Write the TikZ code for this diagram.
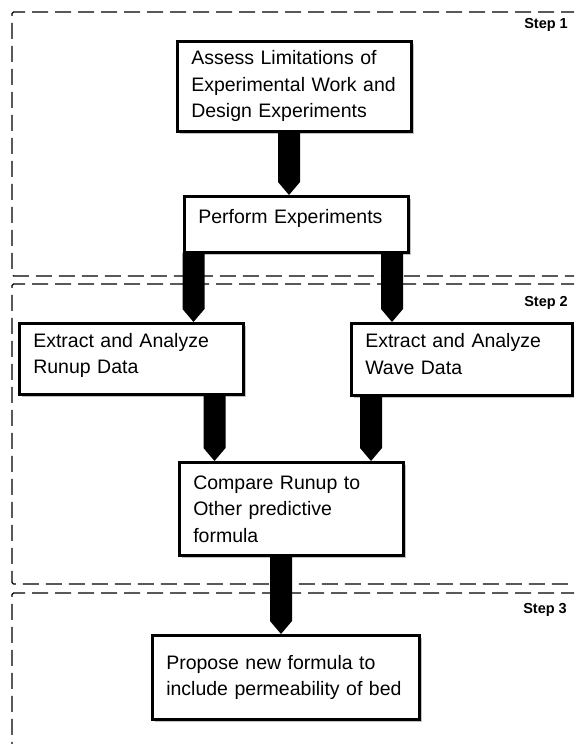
\documentclass[tikz,border=0pt]{standalone}
\usepackage{fontspec}
\setmainfont{Liberation Sans}
\usetikzlibrary{calc,shadows}
\newcommand\blkarrow[3]{%
  \fill ($(#1 |- #2.south)+(-11,-1)$) -- ($(#1 |- #3.north)+(-11,-13)$) --
        (#1 |- #3.north) -- ($(#1 |- #3.north)+(11,-13)$) --
        ($(#1 |- #2.south)+(11,-1)$) -- cycle;}
\begin{document}
\begin{tikzpicture}[x=1pt,y=-1pt,
  stepframe/.style={line width=1.4pt, dash pattern=on 16pt off 7pt, rounded corners=1.5pt},
  stepname/.style={font=\fontsize{14.5}{16}\selectfont\bfseries, anchor=east, inner sep=0pt},
  procbox/.style={draw, line width=2.6pt, fill=white, anchor=north west,
    inner xsep=14pt, inner ysep=0pt, align=left,
    font=\fontsize{19.5}{26.5}\selectfont,
    drop shadow={shadow xshift=3pt, shadow yshift=-3pt, fill=black!40, opacity=0.6}}]
\useasboundingbox (0,0) rectangle (574,744);
\clip (0,0) rectangle (574,744);

% dashed step frames
\draw[stepframe] (600,12) -- (12,12) -- (12,276) -- (600,276);
\draw[stepframe] (600,284) -- (12,284) -- (12,584) -- (600,584);
\draw[stepframe] (600,593) -- (12,593) -- (12,760);

% step labels
\node[stepname] (s1) at (568,25) {Step 1};
\node[stepname] (s2) at (568,303) {Step 2};
\node[stepname] (s3) at (567,610) {Step 3};

% process boxes
\node[procbox, minimum width=234pt, minimum height=90pt, text width=206pt] (assess) at (176,40)
  {Assess Limitations of\\Experimental Work and\\Design Experiments};
\node[procbox, minimum width=224pt, minimum height=56pt, text width=196pt, text depth=16pt] (perform) at (183,195)
  {Perform Experiments};
\node[procbox, minimum width=224pt, minimum height=71pt, text width=196pt, text depth=37pt] (runup) at (18,322)
  {Extract and Analyze\\Runup Data};
\node[procbox, minimum width=221pt, minimum height=72pt, text width=193pt, text depth=37pt] (wave) at (350,322)
  {Extract and Analyze\\Wave Data};
\node[procbox, minimum width=224pt, minimum height=93pt, text width=196pt] (compare) at (178,461)
  {Compare Runup to\\Other predictive\\formula};
\node[procbox, minimum width=267pt, minimum height=84pt, text width=239pt] (propose) at (151,634)
  {Propose new formula to\\include permeability of bed};

% arrow axes
\coordinate (ax1) at (289,0);
\coordinate (ax2) at (193.5,0);
\coordinate (ax3) at (392,0);
\coordinate (ax4) at (214.5,0);
\coordinate (ax5) at (371,0);
\coordinate (ax6) at (281,0);

% block arrows
\blkarrow{ax1}{assess}{perform}
\blkarrow{ax2}{perform}{runup}
\blkarrow{ax3}{perform}{wave}
\blkarrow{ax4}{runup}{compare}
\blkarrow{ax5}{wave}{compare}
\blkarrow{ax6}{compare}{propose}
\end{tikzpicture}
\end{document}
